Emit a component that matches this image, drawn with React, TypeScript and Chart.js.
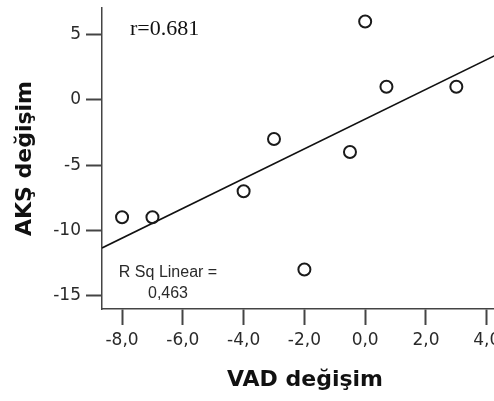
import React, { useEffect, useRef } from 'react';
import { Chart, registerables } from 'chart.js';

Chart.register(...registerables);

// Data
const vadChange = [-8, -7, -4, -3, -0.5, 0, 0.7, 3, -2];
const aksChange = [-9, -9, -7, -3, -4, 6, 1, 1, -13];
const xTicks = [-8, -6, -4, -2, 0, 2, 4];
const yTicks = [-15, -10, -5, 0, 5];
const xRange = [-8.66, 4.7];
const yRange = [-16.03, 7.04];
const xTitle = 'VAD değişim';
const yTitle = 'AKŞ değişim';
const rLabel = 'r=0.681';
const rsqLabel = ['R Sq Linear =', '0,463'];

function fitLine(xs: number[], ys: number[]) {
  const n = xs.length;
  const mx = xs.reduce((a, b) => a + b, 0) / n;
  const my = ys.reduce((a, b) => a + b, 0) / n;
  let sxy = 0;
  let sxx = 0;
  for (let i = 0; i < n; i++) {
    sxy += (xs[i] - mx) * (ys[i] - my);
    sxx += (xs[i] - mx) * (xs[i] - mx);
  }
  const slope = sxy / sxx;
  return { slope, intercept: my - slope * mx };
}

const annotations = {
  id: 'annotations',
  afterDraw(chart: any) {
    const { ctx, chartArea } = chart;
    ctx.save();
    ctx.fillStyle = '#111';
    ctx.font = '22px "Liberation Serif"';
    ctx.textAlign = 'left';
    ctx.textBaseline = 'alphabetic';
    ctx.fillText(rLabel, chartArea.left + 28, chartArea.top + 27);
    ctx.fillStyle = '#2a2a2a';
    ctx.font = '16px "Liberation Sans"';
    ctx.textAlign = 'center';
    ctx.fillText(rsqLabel[0], chartArea.left + 66, chartArea.bottom - 32);
    ctx.fillText(rsqLabel[1], chartArea.left + 66, chartArea.bottom - 11);
    ctx.restore();
  },
};

export default function App() {
  const ref = useRef<HTMLCanvasElement>(null);
  useEffect(() => {
    const { slope, intercept } = fitLine(vadChange, aksChange);
    const points = vadChange.map((x, i) => ({ x, y: aksChange[i] }));
    const fit = xRange.map((x) => ({ x, y: intercept + slope * x }));
    const tickFont = { family: 'DejaVu Sans', size: 17 };
    const titleFont = { family: 'DejaVu Sans', size: 22, weight: 'bold' as const };
    const chart = new Chart(ref.current!, {
      type: 'scatter',
      data: {
        datasets: [
          {
            data: points,
            pointRadius: 6,
            pointHoverRadius: 6,
            pointBorderWidth: 2,
            pointBorderColor: '#1a1a1a',
            pointBackgroundColor: 'rgba(255,255,255,0)',
          },
          {
            data: fit,
            showLine: true,
            pointRadius: 0,
            borderColor: '#111',
            borderWidth: 1.6,
          } as any,
        ],
      },
      options: {
        animation: false,
        responsive: false,
        devicePixelRatio: 1,
        layout: { padding: { left: 0, top: 6, right: 32, bottom: 0 } },
        plugins: { legend: { display: false }, tooltip: { enabled: false } },
        scales: {
          x: {
            type: 'linear',
            min: xRange[0],
            max: xRange[1],
            afterBuildTicks: (s: any) => {
              s.ticks = xTicks.map((v) => ({ value: v }));
            },
            afterFit: (s: any) => {
              s.height = 92;
              s.paddingLeft = 0;
              s.paddingRight = 0;
            },
            grid: {
              display: true,
              drawOnChartArea: false,
              drawTicks: true,
              tickLength: 16,
              tickWidth: 2,
              tickColor: '#444',
            },
            border: { display: true, color: '#444', width: 1.5 },
            ticks: {
              padding: 5,
              color: '#2a2a2a',
              font: tickFont,
              maxRotation: 0,
              autoSkip: false,
              callback: (v: any) => Number(v).toFixed(1).replace('.', ','),
            },
            title: {
              display: true,
              text: xTitle,
              color: '#111',
              font: titleFont,
              padding: { top: 0, bottom: 8 },
            },
          },
          y: {
            type: 'linear',
            min: yRange[0],
            max: yRange[1],
            afterBuildTicks: (s: any) => {
              s.ticks = yTicks.map((v) => ({ value: v }));
            },
            afterFit: (s: any) => {
              s.width = 102;
              s.paddingTop = 0;
              s.paddingBottom = 0;
            },
            grid: {
              display: true,
              drawOnChartArea: false,
              drawTicks: true,
              tickLength: 16,
              tickWidth: 2,
              tickColor: '#444',
            },
            border: { display: true, color: '#444', width: 1.5 },
            ticks: {
              padding: 5,
              color: '#2a2a2a',
              font: tickFont,
              autoSkip: false,
              callback: (v: any) => String(v),
            },
            title: {
              display: true,
              text: yTitle,
              color: '#111',
              font: titleFont,
              padding: { top: 12.4, bottom: 0 },
            },
          },
        },
      },
      plugins: [annotations],
    });
    return () => chart.destroy();
  }, []);
  return (
    <div
      style={{
        position: 'fixed',
        left: 0,
        top: 0,
        width: 494,
        height: 401,
        overflow: 'hidden',
        background: '#fff',
      }}
    >
      <canvas ref={ref} width={540} height={401} style={{ display: 'block', width: 540, height: 401 }} />
    </div>
  );
}
